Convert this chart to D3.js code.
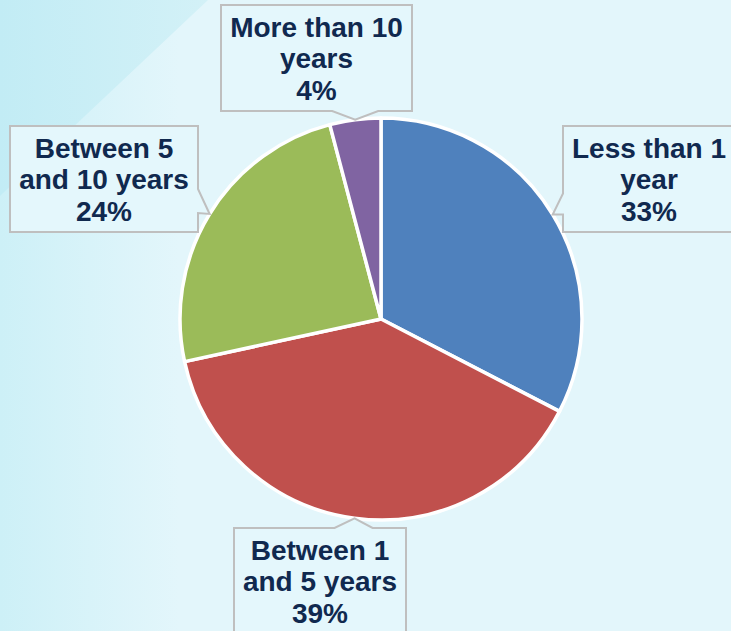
<!DOCTYPE html>
<html>
<head>
<meta charset="utf-8">
<script src="https://cdn.jsdelivr.net/npm/d3@7"></script>
<style>
  html, body { margin: 0; padding: 0; background: #e3f6fb; }
  svg { display: block; }
</style>
</head>
<body>
<svg id="chart" width="731" height="631"></svg>
<script>
// ---- data ----
const categories = ["Less than 1 year", "Between 1 and 5 years", "Between 5 and 10 years", "More than 10 years"];
const labelLines = [["Less than 1", "year"], ["Between 1", "and 5 years"], ["Between 5", "and 10 years"], ["More than 10", "years"]];
const values = [32.6, 39.0, 24.3, 4.1];   // shares; labels show rounded %
const colors = ["#4f81bd", "#c0504d", "#9bbb59", "#8064a2"];

// ---- layout (callout boxes) ----
const boxes = [
  {x: 563, y: 126, w: 172, h: 106, side: "left",   a: -21, b: 0},
  {x: 234, y: 528, w: 172, h: 120, side: "top",    a: -20, b: 18},
  {x: 10,  y: 126, w: 188, h: 106, side: "right",  a: -25, b: -1},
  {x: 221, y: 5,   w: 191, h: 106, side: "bottom", a: -23, b: 23}
];

const W = 731, H = 631;
const cx = 381, cy = 319, R = 201;
const svg = d3.select("#chart");

// background
const defs = svg.append("defs");
const lg = defs.append("linearGradient").attr("id", "bgLeft").attr("x1", 0).attr("x2", 1).attr("y1", 0).attr("y2", 0);
lg.append("stop").attr("offset", "0%").attr("stop-color", "#cdf0f7");
lg.append("stop").attr("offset", "100%").attr("stop-color", "#e3f6fb");
const tg = defs.append("linearGradient").attr("id", "bgTri").attr("x1", 0).attr("x2", 1).attr("y1", 0).attr("y2", 0);
tg.append("stop").attr("offset", "0%").attr("stop-color", "#c2ecf5");
tg.append("stop").attr("offset", "100%").attr("stop-color", "#d3f1f7");
svg.append("rect").attr("width", W).attr("height", H).attr("fill", "#e3f6fb");
svg.append("rect").attr("width", 180).attr("height", H).attr("fill", "url(#bgLeft)");
svg.append("path").attr("d", "M0,0 L208,0 L0,196 Z").attr("fill", "url(#bgTri)");

// pie
const pie = d3.pie().sort(null).value(d => d)(values);
const arc = d3.arc().innerRadius(0).outerRadius(R);
const g = svg.append("g").attr("transform", `translate(${cx},${cy})`);
g.selectAll("path.slice").data(pie).enter().append("path")
  .attr("class", "slice")
  .attr("d", arc)
  .attr("fill", (d, i) => colors[i])
  .attr("stroke", "#ffffff")
  .attr("stroke-width", 3.5)
  .attr("stroke-linejoin", "round");

// callouts
const tipArc = d3.arc().innerRadius(R).outerRadius(R);
pie.forEach((d, i) => {
  const c = tipArc.centroid(d);
  const tx = cx + c[0], ty = cy + c[1];
  const b = boxes[i];
  const x0 = b.x, y0 = b.y, x1 = b.x + b.w, y1 = b.y + b.h;
  let pts;
  if (b.side === "bottom") {
    pts = [[x0, y0], [x1, y0], [x1, y1], [tx + b.b, y1], [tx, ty], [tx + b.a, y1], [x0, y1]];
  } else if (b.side === "top") {
    pts = [[x0, y0], [tx + b.a, y0], [tx, ty], [tx + b.b, y0], [x1, y0], [x1, y1], [x0, y1]];
  } else if (b.side === "right") {
    pts = [[x0, y0], [x1, y0], [x1, ty + b.a], [tx, ty], [x1, ty + b.b], [x1, y1], [x0, y1]];
  } else {
    pts = [[x0, y0], [x1, y0], [x1, y1], [x0, y1], [x0, ty + b.b], [tx, ty], [x0, ty + b.a]];
  }
  svg.append("path")
    .attr("d", d3.line()(pts) + "Z")
    .attr("fill", "#e4f7fc")
    .attr("stroke", "#bfbfbf")
    .attr("stroke-width", 2);

  const lines = labelLines[i].concat([Math.round(values[i]) + "%"]);
  const t = svg.append("text")
    .attr("text-anchor", "middle")
    .attr("font-family", "'Liberation Sans', Arial, sans-serif")
    .attr("font-weight", "bold")
    .attr("font-size", 28)
    .attr("fill", "#10294f");
  lines.forEach((ln, k) => {
    t.append("tspan").attr("x", b.x + b.w / 2).attr("y", b.y + 31.5 + k * 31.7).text(ln);
  });
});
</script>
</body>
</html>
